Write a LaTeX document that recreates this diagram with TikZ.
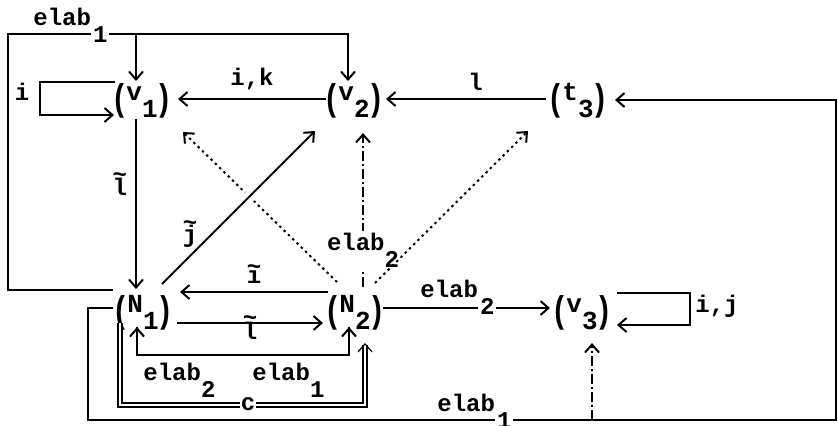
\documentclass[tikz,border=0pt]{standalone}
\usepackage{fontspec}
\setmonofont{Liberation Mono}
\usetikzlibrary{arrows.meta, calc}

\newcommand{\labfont}{\fontsize{12}{14}\selectfont\ttfamily\bfseries}
\newcommand{\vxfont}{\fontsize{13}{15}\selectfont\ttfamily\bfseries}
\newcommand{\pnode}[2]{\raisebox{-5.3pt}{\scalebox{1.1}[1.43]{(}}\kern-1pt#1\raisebox{-8.5pt}{#2}\kern-1pt\raisebox{-5.3pt}{\scalebox{1.1}[1.43]{)}}}
\newcommand{\lsub}[2]{#1\raisebox{-8.5pt}{#2}}
\newcommand{\cutsub}[2]{#1\raisebox{-8.5pt}{\setlength{\fboxsep}{1pt}\colorbox{white}{#2}}}
\newcommand{\tld}[2][0.56em]{\ooalign{\hfil#2\hfil\cr\hfil\raisebox{#1}{\char"7E}\hfil\cr}}

\begin{document}
\begin{tikzpicture}[
        x=0.5pt, y=-0.5pt,
        font=\labfont,
        vx/.style={inner sep=0pt, anchor=base, font=\vxfont},
        lab/.style={inner sep=1pt},
        line/.style={draw, line width=1pt, -{Straight Barb[length=4pt, width=7pt]}},
        dotline/.style={line, dash pattern=on 1.2pt off 1.8pt},
        dashdotline/.style={line, dash pattern=on 5pt off 1.5pt on 1pt off 1.5pt},
        twin/.style={draw, double, line width=0.6pt, double distance=1.4pt, -{Straight Barb[length=4pt, width=7pt]}},
        over/.style={preaction={draw=white, -, line width=6pt, shorten <=25pt, shorten >=25pt}}
    ]
        \useasboundingbox (0,0) rectangle (838,425);

        % nodes
        \node [vx] (v1) at (142,100) {\pnode{v}{1}};
        \node [vx] (v2) at (354,100) {\pnode{v}{2}};
        \node [vx] (t3) at (578,100) {\pnode{t}{3}};
        \node [vx] (N1) at (143,312) {\pnode{N}{1}};
        \node [vx] (N2) at (355,312) {\pnode{N}{2}};
        \node [vx] (v3) at (582,312) {\pnode{v}{3}};

        % paths
        \path [line] ($(N1.base)+(-30,-22)$) -| (8,34) -| ($(v2.base)+(-6,-19)$);
        \path [line] ($(v1.base)+(-6,-19)$) ++(0,-47) -- ($(v1.base)+(-6,-19)$);
        \node [lab, anchor=base west] at (31,25) {\cutsub{elab}{1}};

        \path [line] ($(v1.base)+(-27,-18)$) -- (40,82) |- ($(v1.base)+(-28,15)$);
        \node [lab, anchor=base] at (22,100) {i};

        \path [line] ($(v2.base)+(-28,-1)$) -- node[lab, above=3pt] {i,k} ($(v1.base)+(36,-1)$);
        \path [line] ($(t3.base)+(-32,-1)$) -- node[lab, above=3pt, pos=0.44] {l} ($(v2.base)+(32,-1)$);

        \path [line] ($(N1.base)+(-30,-4)$) -| (88,420) -- (836,420) |- ($(t3.base)+(37,0)$);
        \path [dashdotline] ($(v3.base)+(10,108)$) -- ($(v3.base)+(10,31)$);
        \node [lab, anchor=base west] at (435,411) {\cutsub{elab}{1}};

        \path [line] ($(v1.base)+(-6,19)$) -- node[lab, left=3pt, pos=0.4] {\tld{l}} ($(N1.base)+(-7,-23)$);

        \path [dotline] ($(N2.base)+(-18,-30)$) -- ($(v1.base)+(41,32)$);
        \path [line, over] ($(N1.base)+(19,-28)$) -- node[lab, above left, pos=0.25] {\tld[0.5em]{j}} ($(v2.base)+(-39,31)$);
        \path [dashdotline] ($(N2.base)+(8,-25)$) -- node[lab, fill=white, pos=0.24] {\lsub{elab}{2}} ($(v2.base)+(9,33)$);
        \path [dotline] ($(N2.base)+(20,-29)$) -- ($(t3.base)+(-50,31)$);

        \path [line] ($(N2.base)+(-27,-20)$) -- node[lab, above=3pt] {\tld[0.36em]{\i}} ($(N1.base)+(37,-20)$);
        \path [line] ($(N1.base)+(34,11)$) -- node[lab, below=-2pt] {\tld{l}} ($(N2.base)+(-32,11)$);

        \path [line] ($(N2.base)+(28,-4)$) -- ($(v3.base)+(-32,-4)$);
        \node [lab, anchor=base west] at (418,297) {\cutsub{elab}{2}};

        \path [line] ($(v3.base)+(35,-19)$) -- (690,293) |- ($(v3.base)+(35,13)$);
        \node [lab, anchor=base west] at (693,312) {i,j};

        \path [line] ($(N1.base)+(-6,15)$) |- (250,355) -| ($(N2.base)+(-6,15)$);
        \path [line] ($(N2.base)+(-6,15)$) |- (250,355) -| ($(N1.base)+(-6,15)$);
        \node [lab, anchor=base west] at (141,380) {\lsub{elab}{2}};
        \node [lab, anchor=base west] at (250,380) {\lsub{elab}{1}};

        \path [twin] ($(N1.base)+(-23,11)$) |- (250,405) -| ($(N2.base)+(10,31)$);
        \node [lab, fill=white, inner sep=0.5pt] at (248,404) {c};

    \end{tikzpicture}
\end{document}
